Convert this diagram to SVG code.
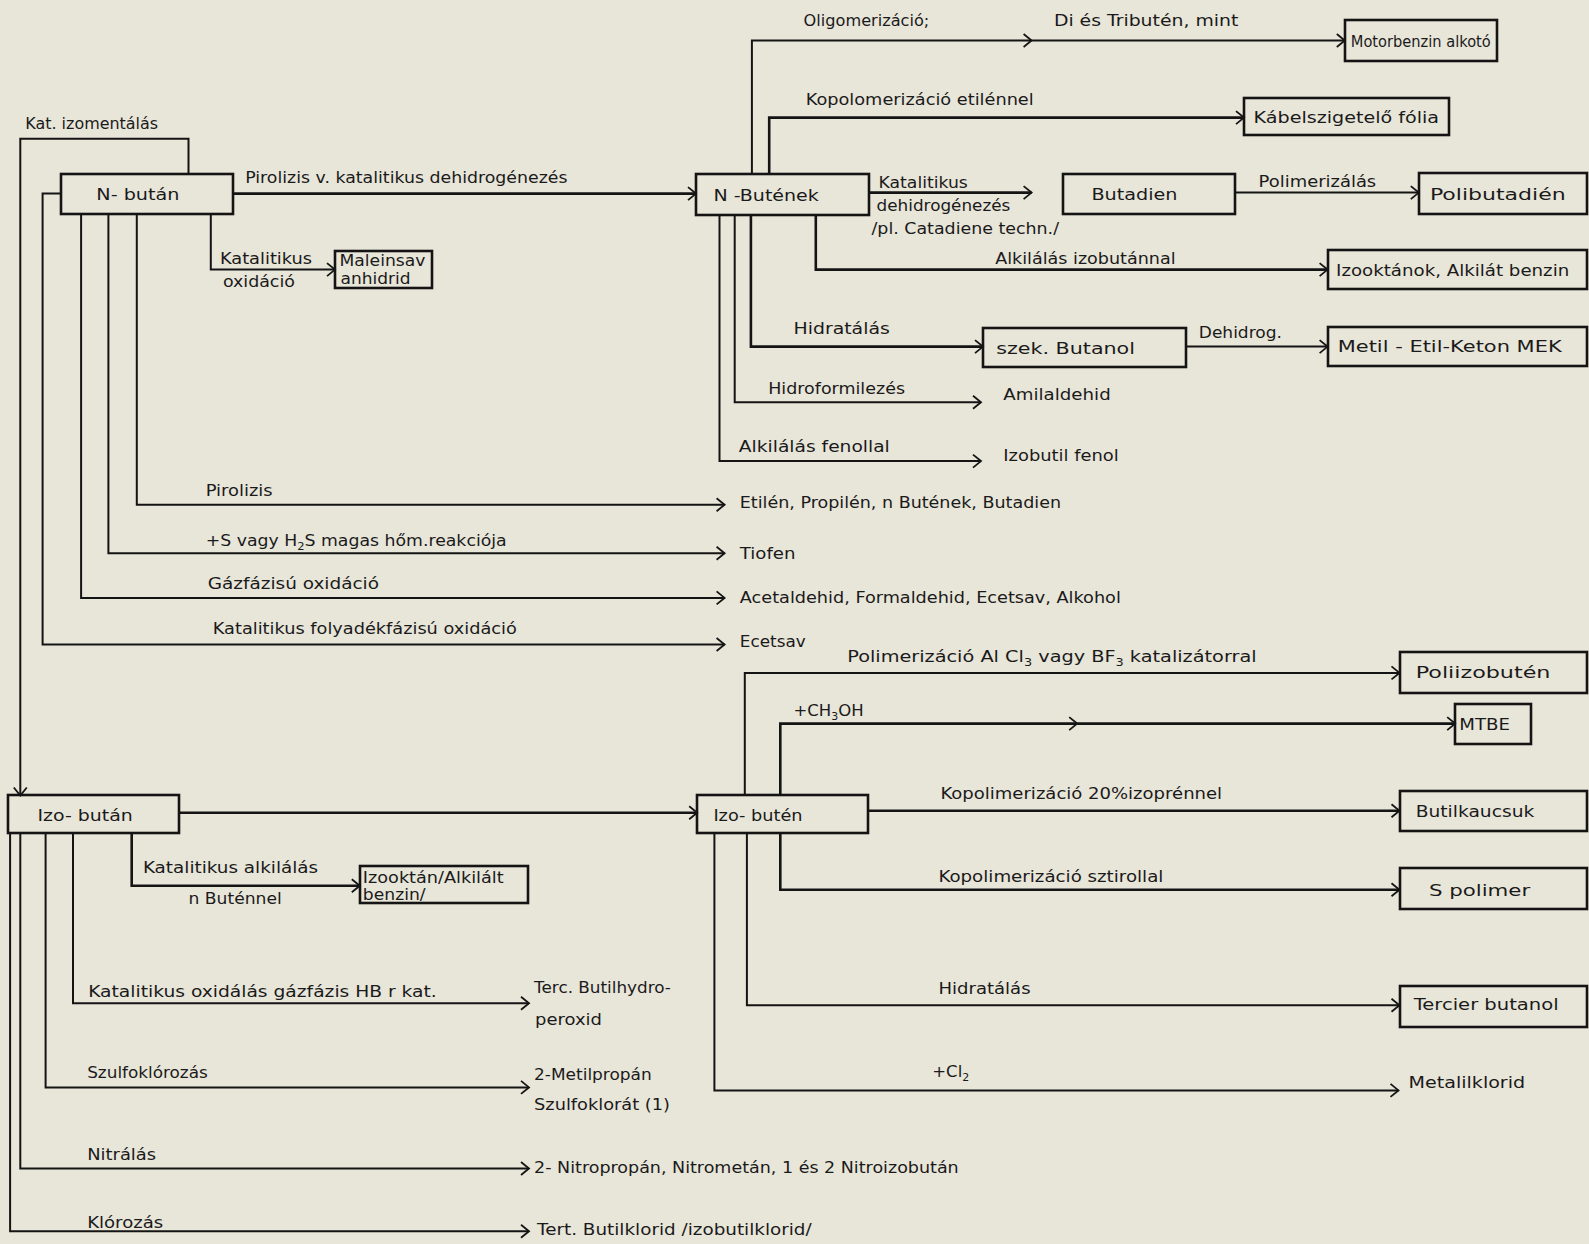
<svg xmlns="http://www.w3.org/2000/svg" width="1589" height="1244" viewBox="0 0 1589 1244">
<defs>
<marker id="ah" viewBox="-10 -8 12 16" refX="0" refY="0" markerWidth="12" markerHeight="16" markerUnits="userSpaceOnUse" orient="auto">
<path d="M-8,-6.5 L0,0 L-8,6.5" fill="none" stroke="#141414" stroke-width="1.8"/>
</marker>
<style>
.bx{fill:none;stroke:#141414;stroke-width:2.6}
.ln{fill:none;stroke:#141414;stroke-width:2;marker-end:url(#ah)}
.ln2{fill:none;stroke:#141414;stroke-width:2.6;marker-end:url(#ah)}
text{font-family:"DejaVu Sans","Liberation Sans",sans-serif;font-size:16.5px;fill:#1a1a1a}
.s{font-size:11px}
</style>
</defs>
<rect x="0" y="0" width="1589" height="1244" fill="#e8e5d9"/>

<g id="connectors">
<path class="ln" d="M188.5,174.3 V138.8 H20.3 V795.5"/>
<path class="ln2" d="M233,193.6 H696"/>
<path class="ln" d="M210.8,213.8 V269.6 H335"/>
<path class="ln" d="M136.8,213.8 V504.7 H724.6"/>
<path class="ln" d="M108.4,213.8 V553.3 H724.6"/>
<path class="ln" d="M81.1,213.8 V597.9 H724.6"/>
<path class="ln" d="M60.8,193.6 H42.6 V644.5 H724.6"/>
<path class="ln" d="M751.9,174.3 V40.5 H1031.6"/>
<path class="ln" d="M1031.6,40.5 H1344.8"/>
<path class="ln2" d="M769.2,174.3 V117.6 H1244"/>
<path class="ln2" d="M869.5,192.6 H1031.6"/>
<path class="ln" d="M1235.3,192.6 H1418.8"/>
<path class="ln2" d="M815.8,214.8 V269.6 H1327.6"/>
<path class="ln2" d="M750.9,214.8 V346.6 H983"/>
<path class="ln" d="M1185.7,346.6 H1327.6"/>
<path class="ln" d="M734.7,214.8 V402.3 H981"/>
<path class="ln" d="M719.5,214.8 V461.1 H981"/>
<path class="ln2" d="M179.4,812.7 H697.2"/>
<path class="ln2" d="M131.7,833 V885.7 H359.8"/>
<path class="ln" d="M73,833 V1003.3 H529"/>
<path class="ln" d="M45.6,833 V1087.4 H529"/>
<path class="ln" d="M20.3,833 V1168.5 H529"/>
<path class="ln" d="M10.1,833 V1231.3 H529"/>
<path class="ln" d="M744.8,795.5 V672.9 H1399.5"/>
<path class="ln2" d="M780.3,795.5 V723.6 H1077.2"/>
<path class="ln2" d="M1077.2,723.6 H1455.2"/>
<path class="ln2" d="M868.5,810.7 H1399.5"/>
<path class="ln2" d="M780.3,833 V889.8 H1399.5"/>
<path class="ln" d="M746.9,833 V1005.3 H1399.5"/>
<path class="ln" d="M714.4,833 V1090.4 H1398.5"/>
</g>

<g id="edge-labels">
<text x="25.3" y="128.7" textLength="132.8" lengthAdjust="spacingAndGlyphs">Kat. izomentálás</text>
<text x="245.2" y="183.4" textLength="322.3" lengthAdjust="spacingAndGlyphs">Pirolizis v. katalitikus dehidrogénezés</text>
<text x="219.9" y="263.5" textLength="92.2" lengthAdjust="spacingAndGlyphs">Katalitikus</text>
<text x="222.9" y="286.8" textLength="72" lengthAdjust="spacingAndGlyphs">oxidáció</text>
<text x="205.7" y="495.5" textLength="66.9" lengthAdjust="spacingAndGlyphs">Pirolizis</text>
<text x="205.7" y="546.2" textLength="301" lengthAdjust="spacingAndGlyphs">+S vagy H<tspan class="s" dy="4">2</tspan><tspan dy="-4">S magas hőm.reakciója</tspan></text>
<text x="207.7" y="588.8" textLength="171.3" lengthAdjust="spacingAndGlyphs">Gázfázisú oxidáció</text>
<text x="212.8" y="634.4" textLength="304" lengthAdjust="spacingAndGlyphs">Katalitikus folyadékfázisú oxidáció</text>
<text x="803.6" y="26.3" textLength="125.7" lengthAdjust="spacingAndGlyphs">Oligomerizáció;</text>
<text x="1053.9" y="26.3" textLength="184.4" lengthAdjust="spacingAndGlyphs">Di és Tributén, mint</text>
<text x="805.7" y="105.4" textLength="228" lengthAdjust="spacingAndGlyphs">Kopolomerizáció etilénnel</text>
<text x="878.6" y="187.5" textLength="89.2" lengthAdjust="spacingAndGlyphs">Katalitikus</text>
<text x="876.6" y="210.8" textLength="133.8" lengthAdjust="spacingAndGlyphs">dehidrogénezés</text>
<text x="871.5" y="234.1" textLength="187.5" lengthAdjust="spacingAndGlyphs">/pl. Catadiene techn./</text>
<text x="1258.6" y="186.5" textLength="117.6" lengthAdjust="spacingAndGlyphs">Polimerizálás</text>
<text x="995.2" y="263.5" textLength="180.4" lengthAdjust="spacingAndGlyphs">Alkilálás izobutánnal</text>
<text x="793.5" y="334.4" textLength="96.3" lengthAdjust="spacingAndGlyphs">Hidratálás</text>
<text x="1198.8" y="337.5" textLength="83.1" lengthAdjust="spacingAndGlyphs">Dehidrog.</text>
<text x="768.2" y="394.2" textLength="136.8" lengthAdjust="spacingAndGlyphs">Hidroformilezés</text>
<text x="738.8" y="452" textLength="151" lengthAdjust="spacingAndGlyphs">Alkilálás fenollal</text>
<text x="847.2" y="661.8" textLength="409.4" lengthAdjust="spacingAndGlyphs">Polimerizáció Al Cl<tspan class="s" dy="4">3</tspan><tspan dy="-4"> vagy BF</tspan><tspan class="s" dy="4">3</tspan><tspan dy="-4">  katalizátorral</tspan></text>
<text x="793.5" y="715.5">+CH<tspan class="s" dy="4">3</tspan><tspan dy="-4">OH</tspan></text>
<text x="940.4" y="798.6" textLength="281.7" lengthAdjust="spacingAndGlyphs">Kopolimerizáció 20%izoprénnel</text>
<text x="938.4" y="881.7" textLength="225" lengthAdjust="spacingAndGlyphs">Kopolimerizáció sztirollal</text>
<text x="938.4" y="994.1" textLength="92.2" lengthAdjust="spacingAndGlyphs">Hidratálás</text>
<text x="932.3" y="1077.3">+Cl<tspan class="s" dy="4">2</tspan></text>
<text x="142.9" y="872.5" textLength="175.3" lengthAdjust="spacingAndGlyphs">Katalitikus alkilálás</text>
<text x="188.5" y="904" textLength="93.2" lengthAdjust="spacingAndGlyphs">n Buténnel</text>
<text x="88.2" y="997.2" textLength="348.6" lengthAdjust="spacingAndGlyphs">Katalitikus oxidálás gázfázis HB r kat.</text>
<text x="87.2" y="1078.3" textLength="120.6" lengthAdjust="spacingAndGlyphs">Szulfoklórozás</text>
<text x="87.2" y="1159.5" textLength="68.9" lengthAdjust="spacingAndGlyphs">Nitrálás</text>
<text x="87.2" y="1228.3" textLength="76" lengthAdjust="spacingAndGlyphs">Klórozás</text>
</g>

<g id="n-butan"><rect class="bx" x="61" y="174" width="172" height="40"/><text x="96.3" y="199.6" textLength="83.1" lengthAdjust="spacingAndGlyphs">N- bután</text></g>
<g id="maleinsav"><rect class="bx" x="335" y="251" width="97" height="37"/><text x="339.5" y="266" textLength="86" lengthAdjust="spacingAndGlyphs">Maleinsav</text><text x="340.5" y="283.8" textLength="70" lengthAdjust="spacingAndGlyphs">anhidrid</text></g>
<g id="etilen"><text x="739.8" y="507.7" textLength="321.2" lengthAdjust="spacingAndGlyphs">Etilén, Propilén, n Butének, Butadien</text></g>
<g id="tiofen"><text x="739.8" y="559.4" textLength="55.7" lengthAdjust="spacingAndGlyphs">Tiofen</text></g>
<g id="acetaldehid"><text x="739.8" y="603" textLength="381" lengthAdjust="spacingAndGlyphs">Acetaldehid, Formaldehid, Ecetsav, Alkohol</text></g>
<g id="ecetsav"><text x="739.8" y="646.5" textLength="65.9" lengthAdjust="spacingAndGlyphs">Ecetsav</text></g>
<g id="n-butenek"><rect class="bx" x="696" y="174" width="173" height="41"/><text x="713.4" y="200.7" textLength="105.4" lengthAdjust="spacingAndGlyphs">N -Butének</text></g>
<g id="motorbenzin"><rect class="bx" x="1345" y="20" width="152" height="41"/><text x="1350.8" y="46.6" textLength="140" lengthAdjust="spacingAndGlyphs">Motorbenzin alkotó</text></g>
<g id="kabel"><rect class="bx" x="1244" y="98" width="205" height="37"/><text x="1253.6" y="122.6" textLength="185.5" lengthAdjust="spacingAndGlyphs">Kábelszigetelő fólia</text></g>
<g id="butadien"><rect class="bx" x="1063" y="174" width="172" height="40"/><text x="1091.4" y="199.6" textLength="86.1" lengthAdjust="spacingAndGlyphs">Butadien</text></g>
<g id="polibutadien"><rect class="bx" x="1419" y="173" width="168" height="41"/><text x="1429.9" y="199.6" textLength="135.8" lengthAdjust="spacingAndGlyphs">Polibutadién</text></g>
<g id="izooktanok"><rect class="bx" x="1328" y="250" width="259" height="39"/><text x="1336.1" y="275.6" textLength="233.1" lengthAdjust="spacingAndGlyphs">Izooktánok, Alkilát benzin</text></g>
<g id="szek-butanol"><rect class="bx" x="983" y="328" width="203" height="39"/><text x="996.2" y="353.7" textLength="138.8" lengthAdjust="spacingAndGlyphs">szek.  Butanol</text></g>
<g id="mek"><rect class="bx" x="1328" y="327" width="259" height="39"/><text x="1337.7" y="351.6" textLength="224" lengthAdjust="spacingAndGlyphs">Metil - Etil-Keton  MEK</text></g>
<g id="amilaldehid"><text x="1003.3" y="400.3" textLength="107.4" lengthAdjust="spacingAndGlyphs">Amilaldehid</text></g>
<g id="izobutil-fenol"><text x="1003.3" y="461.1" textLength="115.5" lengthAdjust="spacingAndGlyphs">Izobutil fenol</text></g>
<g id="izo-butan"><rect class="bx" x="8" y="795" width="171" height="38"/><text x="37.5" y="820.8" textLength="95.3" lengthAdjust="spacingAndGlyphs">Izo- bután</text></g>
<g id="izooktan"><rect class="bx" x="360" y="866" width="168" height="37"/><text x="362.8" y="882.7" textLength="140.9" lengthAdjust="spacingAndGlyphs">Izooktán/Alkilált</text><text x="362.8" y="899.9" textLength="62.8" lengthAdjust="spacingAndGlyphs">benzin/</text></g>
<g id="terc-butilhydroperoxid"><text x="534.1" y="993.1" textLength="136.8" lengthAdjust="spacingAndGlyphs">Terc. Butilhydro-</text><text x="535.1" y="1024.6" textLength="66.9" lengthAdjust="spacingAndGlyphs">peroxid</text></g>
<g id="metilpropan"><text x="534.1" y="1080.3" textLength="117.6" lengthAdjust="spacingAndGlyphs">2-Metilpropán</text><text x="534.1" y="1109.7" textLength="135.8" lengthAdjust="spacingAndGlyphs">Szulfoklorát (1)</text></g>
<g id="nitropropan"><text x="534.1" y="1172.5" textLength="424.6" lengthAdjust="spacingAndGlyphs">2- Nitropropán,  Nitrometán, 1 és 2  Nitroizobután</text></g>
<g id="tert-butilklorid"><text x="537.1" y="1235.4" textLength="274.6" lengthAdjust="spacingAndGlyphs">Tert. Butilklorid /izobutilklorid/</text></g>
<g id="izo-buten"><rect class="bx" x="697" y="795" width="171" height="38"/><text x="713.4" y="820.8" textLength="89.2" lengthAdjust="spacingAndGlyphs">Izo- butén</text></g>
<g id="poliizobuten"><rect class="bx" x="1400" y="652" width="187" height="41"/><text x="1415.7" y="678" textLength="134.8" lengthAdjust="spacingAndGlyphs">Poliizobutén</text></g>
<g id="mtbe"><rect class="bx" x="1455" y="704" width="76" height="40"/><text x="1459.3" y="729.6" textLength="50.7" lengthAdjust="spacingAndGlyphs">MTBE</text></g>
<g id="butilkaucsuk"><rect class="bx" x="1400" y="791" width="187" height="40"/><text x="1415.7" y="816.8" textLength="118.6" lengthAdjust="spacingAndGlyphs">Butilkaucsuk</text></g>
<g id="s-polimer"><rect class="bx" x="1400" y="868" width="187" height="41"/><text x="1428.9" y="895.8" textLength="101.3" lengthAdjust="spacingAndGlyphs">S   polimer</text></g>
<g id="tercier-butanol"><rect class="bx" x="1400" y="986" width="187" height="41"/><text x="1413.7" y="1010.4" textLength="144.9" lengthAdjust="spacingAndGlyphs">Tercier  butanol</text></g>
<g id="metalilklorid"><text x="1408.6" y="1088.4" textLength="116.5" lengthAdjust="spacingAndGlyphs">Metalilklorid</text></g>
</svg>
